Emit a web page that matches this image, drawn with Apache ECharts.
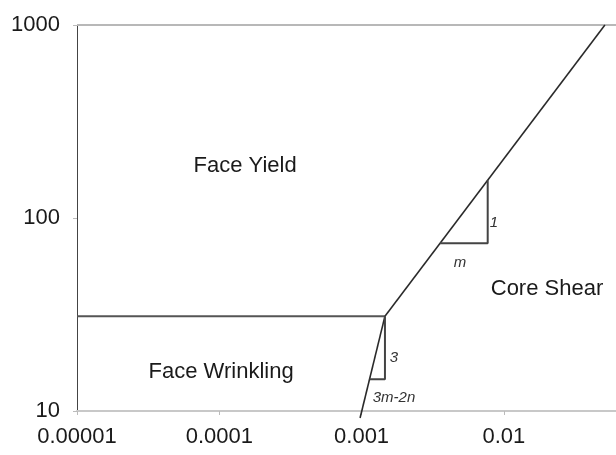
<!DOCTYPE html>
<html>
<head>
<meta charset="utf-8">
<script src="https://cdn.jsdelivr.net/npm/echarts@6/dist/echarts.min.js"></script>
<style>
  html, body { margin: 0; padding: 0; background: #fff; }
  #chart { width: 616px; height: 455px; }
</style>
</head>
<body>
<div id="chart"></div>
<script>
// tick labels
const xTickLabels = ['0.00001', '0.0001', '0.001', '0.01'];
const yTickLabels = ['10', '100', '1000'];

// failure mode boundaries [x, y]
const faceYieldWrinkling = [[0.00001, 31], [0.00146, 31]];
const coreShearLine = [[0.00146, 31], [0.0513, 1000]];
const wrinklingShearLine = [[0.000976, 9.2], [0.00146, 31]];

// slope triangles
const upperTriangle = [[0.00356, 74], [0.0077, 74], [0.0077, 157]];
const lowerTriangle = [[0.00114, 14.6], [0.00146, 14.6], [0.00146, 31]];

// region names and slope notes
const regionNames = ['Face Yield', 'Core Shear', 'Face Wrinkling'];
const regionPoints = [[0.000152, 185], [0.0201, 42.7], [0.000103, 16.0]];
const slopeNames = ['1', 'm', '3', '3m-2n'];
const slopePoints = [[0.00851, 94.8], [0.00491, 58.9], [0.00169, 18.8], [0.00169, 11.7]];

const chart = echarts.init(document.getElementById('chart'));

const lineSeries = (data, color, width) => ({
  type: 'line',
  data: data,
  symbol: 'none',
  silent: true,
  clip: false,
  lineStyle: { color: color, width: width },
  animation: false
});

// invisible points that only carry a text label
const textSeries = (names, points, fontSize, italic, color) => ({
  type: 'scatter',
  silent: true,
  symbolSize: 1,
  itemStyle: { color: 'transparent', opacity: 1 },
  data: names.map((n, i) => ({ name: n, value: points[i] })),
  label: {
    show: true,
    position: 'inside',
    formatter: '{b}',
    fontFamily: 'Liberation Sans',
    fontSize: fontSize,
    fontStyle: italic ? 'italic' : 'normal',
    color: color
  },
  animation: false
});

const option = {
  backgroundColor: '#fff',
  animation: false,
  grid: { left: 77, right: 0, top: 25, bottom: 44 },
  xAxis: {
    type: 'log',
    logBase: 10,
    min: 0.00001,
    max: 0.0614,
    axisLine: { lineStyle: { color: '#c8c8c8', width: 2 } },
    axisTick: { show: true, length: 4, lineStyle: { color: '#bbb' } },
    splitLine: { show: false },
    axisLabel: {
      margin: 15,
      fontFamily: 'Liberation Sans',
      fontSize: 22,
      color: '#1a1a1a',
      showMaxLabel: false,
      formatter: (v) => {
        const i = Math.round(Math.log10(v)) + 5;
        return xTickLabels[i] || '';
      }
    }
  },
  yAxis: {
    type: 'log',
    logBase: 10,
    min: 10,
    max: 1000,
    axisLine: { show: true, lineStyle: { color: '#444', width: 1 } },
    axisTick: { show: true, length: 4, lineStyle: { color: '#bbb' } },
    splitLine: { show: false },
    axisLabel: {
      margin: 17,
      fontFamily: 'Liberation Sans',
      fontSize: 22,
      color: '#1a1a1a',
      formatter: (v) => {
        const i = Math.round(Math.log10(v)) - 1;
        return yTickLabels[i] || '';
      }
    }
  },
  series: [
    // top frame line
    lineSeries([[0.00001, 1000], [0.0614, 1000]], '#b8b8b8', 2),
    lineSeries(faceYieldWrinkling, '#555', 2),
    lineSeries(coreShearLine, '#2a2a2a', 1.6),
    lineSeries(wrinklingShearLine, '#2a2a2a', 1.6),
    lineSeries(upperTriangle, '#444', 2),
    lineSeries(lowerTriangle, '#444', 2),
    textSeries(regionNames, regionPoints, 22, false, '#1a1a1a'),
    textSeries(slopeNames, slopePoints, 15, true, '#333')
  ]
};

chart.setOption(option);
</script>
</body>
</html>
